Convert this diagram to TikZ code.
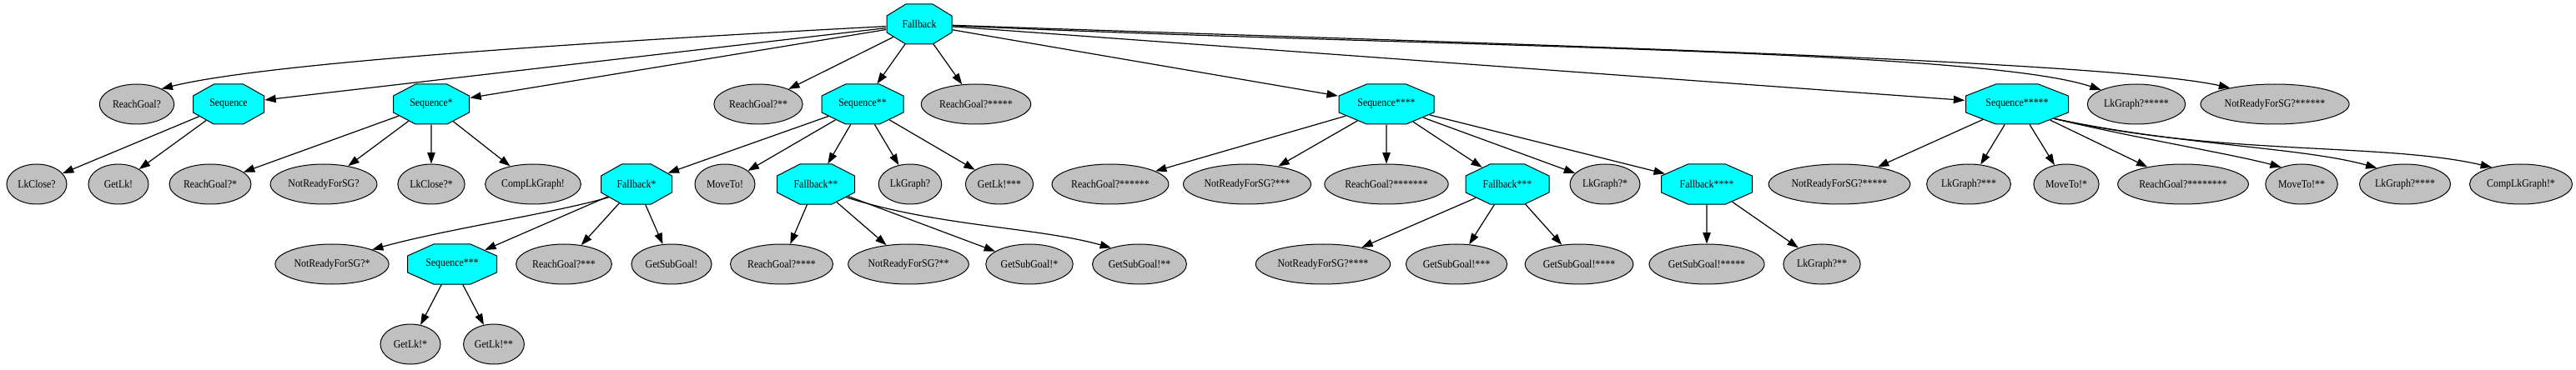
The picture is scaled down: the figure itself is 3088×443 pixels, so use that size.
\documentclass[tikz,border=0pt]{standalone}
\usepackage{fontspec}
\setmainfont{Liberation Serif}[FakeStretch=0.89]
\usetikzlibrary{shapes.geometric,arrows.meta}
\definecolor{leafgray}{RGB}{192,192,192}
\definecolor{ctrlcyan}{RGB}{0,255,255}

\begin{document}
\begin{tikzpicture}[x=0.75pt,y=0.75pt,font=\fontsize{10}{12}\selectfont,
    leaf/.style={ellipse,draw,fill=leafgray,line width=0.75pt,minimum width=54pt,minimum height=36pt,inner xsep=2pt,inner ysep=0pt},
    ctrl/.style={regular polygon,regular polygon sides=8,draw,fill=ctrlcyan,line width=0.75pt,minimum size=38.97pt,inner sep=0pt,xscale=#1/36,transform shape,
      execute at begin node={\setbox0=\hbox\bgroup},
      execute at end node={\egroup\pgfmathparse{36/#1}\scalebox{\pgfmathresult}[1]{\box0}}},
    link/.style={-{Triangle[length=10pt,width=7pt]},line width=0.9pt}]
    \useasboundingbox (0,0) rectangle (3088,443);
    % root
    \node[ctrl=58.5](fb0) at (1102,414){Fallback};
    % first level
    \node[leaf](rg0) at (164,318){ReachGoal?};
    \node[ctrl=63.75](seq0) at (274,318){Sequence};
    \node[ctrl=68.25](seq1) at (517,318){Sequence*};
    \node[leaf](rg2) at (909,318){ReachGoal?**};
    \node[ctrl=73.5](seq2) at (1034,318){Sequence**};
    \node[leaf](rg5) at (1170,318){ReachGoal?*****};
    \node[ctrl=85.5](seq4) at (1662,318){Sequence****};
    \node[ctrl=92.25](seq5) at (2418,318){Sequence*****};
    \node[leaf](lkg5) at (2561,318){LkGraph?*****};
    \node[leaf](nr6) at (2727,318){NotReadyForSG?******};
    % second level
    \node[leaf](lkc0) at (44,222){LkClose?};
    \node[leaf](glk0) at (142,222){GetLk!};
    \node[leaf](rg1) at (252,222){ReachGoal?*};
    \node[leaf](nr0) at (388,222){NotReadyForSG?};
    \node[leaf](lkc1) at (517,222){LkClose?*};
    \node[leaf](clg0) at (639,222){CompLkGraph!};
    \node[ctrl=63.75](fb1) at (763,222){Fallback*};
    \node[leaf](mv0) at (869,222){MoveTo!};
    \node[ctrl=69.75](fb2) at (978,222){Fallback**};
    \node[leaf](lkg0) at (1091,222){LkGraph?};
    \node[leaf](glk3) at (1198,222){GetLk!***};
    \node[leaf](rg6) at (1331,222){ReachGoal?******};
    \node[leaf](nr3) at (1495,222){NotReadyForSG?***};
    \node[leaf](rg7) at (1662,222){ReachGoal?*******};
    \node[ctrl=75](fb3) at (1807,222){Fallback***};
    \node[leaf](lkg1) at (1924,222){LkGraph?*};
    \node[ctrl=81.75](fb4) at (2046,222){Fallback****};
    \node[leaf](nr5) at (2205,222){NotReadyForSG?*****};
    \node[leaf](lkg3) at (2360,222){LkGraph?***};
    \node[leaf](mv1) at (2477,222){MoveTo!*};
    \node[leaf](rg8) at (2617,222){ReachGoal?********};
    \node[leaf](mv2) at (2759,222){MoveTo!**};
    \node[leaf](lkg4) at (2883,222){LkGraph?****};
    \node[leaf](clg1) at (3022,222){CompLkGraph!*};
    % third level
    \node[leaf](nr1) at (398,126){NotReadyForSG?*};
    \node[ctrl=80.25](seq3) at (542,126){Sequence***};
    \node[leaf](rg3) at (676,126){ReachGoal?***};
    \node[leaf](gsg0) at (805,126){GetSubGoal!};
    \node[leaf](rg4) at (937,126){ReachGoal?****};
    \node[leaf](nr2) at (1089,126){NotReadyForSG?**};
    \node[leaf](gsg1) at (1234,126){GetSubGoal!*};
    \node[leaf](gsg2) at (1366,126){GetSubGoal!**};
    \node[leaf](nr4) at (1586,126){NotReadyForSG?****};
    \node[leaf](gsg3) at (1746,126){GetSubGoal!***};
    \node[leaf](gsg4) at (1893,126){GetSubGoal!****};
    \node[leaf](gsg5) at (2046,126){GetSubGoal!*****};
    \node[leaf](lkg2) at (2184,126){LkGraph?**};
    % fourth level
    \node[leaf](glk1) at (492,30){GetLk!*};
    \node[leaf](glk2) at (592,30){GetLk!**};
    \path[link]
    (fb0) edge (seq0)
          edge (seq1)
          edge (rg2)
          edge (seq2)
          edge (rg5)
          edge (seq4)
          edge (seq5)
    (seq0) edge (lkc0)
          edge (glk0)
    (seq1) edge (rg1)
          edge (nr0)
          edge (lkc1)
          edge (clg0)
    (seq2) edge (fb1)
          edge (mv0)
          edge (fb2)
          edge (lkg0)
          edge (glk3)
    (seq4) edge (rg6)
          edge (nr3)
          edge (rg7)
          edge (fb3)
          edge (lkg1)
          edge (fb4)
    (seq5) edge (nr5)
          edge (lkg3)
          edge (mv1)
          edge (rg8)
    (fb1) edge (seq3)
          edge (rg3)
          edge (gsg0)
    (fb2) edge (rg4)
          edge (nr2)
          edge (gsg1)
    (fb3) edge (nr4)
          edge (gsg3)
          edge (gsg4)
    (fb4) edge (gsg5)
          edge (lkg2)
    (seq3) edge (glk1)
          edge (glk2);
    % bent links
    \draw[link] (fb0.186) .. controls +(-340,-18) and +(130,32) .. (rg0.32);
    \draw[link] (fb0.-4) .. controls +(530,-25) and +(-150,50) .. (lkg5.158);
    \draw[link] (fb0.-3) .. controls +(560,-20) and +(-160,35) .. (nr6.160);
    \draw[link] (seq5.-45) .. controls +(90,-22) and +(-60,16) .. (mv2.140);
    \draw[link] (seq5.-45) .. controls +(150,-32) and +(-90,25) .. (lkg4.150);
    \draw[link] (seq5.-45) .. controls +(200,-45) and +(-130,30) .. (clg1.150);
    \draw[link] (fb1.220) .. controls +(-70,-20) and +(90,25) .. (nr1.20);
    \draw[link] (fb2.-40) .. controls +(110,-35) and +(-90,25) .. (gsg2.150);
\end{tikzpicture}
\end{document}
